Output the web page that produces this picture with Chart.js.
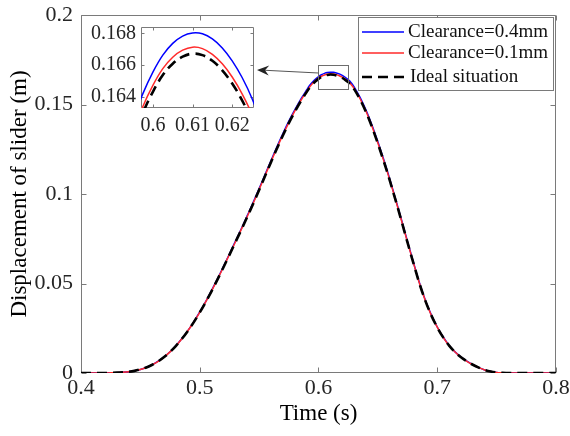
<!DOCTYPE html>
<html><head><meta charset="utf-8">
<script src="https://cdn.jsdelivr.net/npm/chart.js@4.4.0/dist/chart.umd.min.js"></script>
<style>
html,body{margin:0;padding:0;background:#fff;}
#wrap{position:relative;width:570px;height:436px;overflow:hidden;}
#main{position:absolute;left:0;top:0;}
#inset{position:absolute;left:80px;top:18px;}
</style></head><body>
<div id="wrap"><canvas id="main" width="570" height="436"></canvas><canvas id="inset" width="190" height="125"></canvas></div>
<script>
const time = [0.400,0.405,0.410,0.415,0.420,0.425,0.430,0.435,0.440,0.445,
0.450,0.455,0.460,0.465,0.470,0.475,0.480,0.485,0.490,0.495,
0.500,0.505,0.510,0.515,0.520,0.525,0.530,0.535,0.540,0.545,
0.550,0.555,0.560,0.565,0.570,0.575,0.580,0.585,0.590,
0.5925,0.595,0.5975,0.600,0.6025,0.605,0.6075,0.610,0.6125,0.615,0.6175,0.620,0.6225,0.625,0.6275,
0.630,0.635,0.640,0.645,0.650,0.655,0.660,0.665,0.670,0.675,
0.680,0.685,0.690,0.695,0.700,0.705,0.710,0.715,0.720,0.725,
0.730,0.735,0.740,0.745,0.750,0.755,0.760,0.765,0.770,0.775,
0.780,0.785,0.790,0.795,0.800];

const clearance04 = [0,0,0,0,0,0.0001,0.0002,0.0004,0.0007,0.0012,
0.0020,0.0031,0.0046,0.0066,0.0090,0.0119,0.0153,0.0193,0.0237,0.0286,
0.0341,0.0399,0.0462,0.0527,0.0596,0.0665,0.0736,0.0806,0.0879,0.0953,
0.1030,0.1109,0.1187,0.1264,0.1337,0.1407,0.1470,0.1529,0.1581,
0.1606,0.1626,0.16422,0.16556,0.16663,0.16737,0.16783,0.16802,0.16797,0.16765,0.16708,0.16627,0.16522,0.16390,0.16218,
0.15990,0.1540,0.1469,0.1386,0.1292,0.1191,0.1084,0.0970,0.0853,0.0734,
0.0617,0.0504,0.0406,0.0325,0.0257,0.0201,0.0154,0.0118,0.0089,0.0066,
0.0046,0.0030,0.0017,0.0008,0.0003,0.0001,0,0,0,0,
0,0,0,0,0];

const clearance01 = [0,0,0,0,0,0.0001,0.0002,0.0004,0.0007,0.0012,
0.0020,0.0031,0.0046,0.0065,0.0089,0.0118,0.0152,0.0191,0.0236,0.0285,
0.0339,0.0397,0.0459,0.0524,0.0592,0.0662,0.0732,0.0802,0.0874,0.0948,
0.1025,0.1103,0.1181,0.1257,0.1330,0.1399,0.1463,0.1521,0.1573,
0.1597,0.1617,0.16341,0.16473,0.16578,0.16650,0.16694,0.16713,0.16704,0.16668,0.16608,0.16525,0.16419,0.16289,0.16119,
0.15899,0.1532,0.1462,0.1378,0.1285,0.1185,0.1079,0.0965,0.0849,0.0730,
0.0614,0.0501,0.0404,0.0323,0.0256,0.0199,0.0153,0.0117,0.0088,0.0065,
0.0046,0.0030,0.0017,0.0008,0.0003,0.0001,0,0,0,0,
0,0,0,0,0];

const ideal = [0,0,0,0,0,0.0001,0.0002,0.0004,0.0007,0.0012,
0.0020,0.0031,0.0046,0.0065,0.0089,0.0118,0.0152,0.0191,0.0235,0.0284,
0.0338,0.0396,0.0458,0.0523,0.0591,0.0660,0.0730,0.0800,0.0872,0.0946,
0.1022,0.1100,0.1178,0.1254,0.1327,0.1396,0.1459,0.1517,0.1569,
0.1593,0.1613,0.16300,0.16432,0.16537,0.16609,0.16653,0.16672,0.16663,0.16627,0.16567,0.16484,0.16378,0.16248,0.16078,
0.15858,0.1528,0.1458,0.1375,0.1282,0.1182,0.1076,0.0963,0.0847,0.0728,
0.0612,0.0500,0.0403,0.0322,0.0255,0.0199,0.0153,0.0117,0.0088,0.0065,
0.0046,0.0030,0.0017,0.0008,0.0003,0.0001,0,0,0,0,
0,0,0,0,0];

const seriesLabels = ['Clearance=0.4mm','Clearance=0.1mm','Ideal situation'];
const xTitle = 'Time (s)';
const yTitle = 'Displacement of slider (m)';
const xTicks = [0.4,0.5,0.6,0.7,0.8];
const xTickLabels = ['0.4','0.5','0.6','0.7','0.8'];
const yTicks = [0,0.05,0.1,0.15,0.2];
const yTickLabels = ['0','0.05','0.1','0.15','0.2'];
const insetXTicks = [0.6,0.61,0.62];
const insetXTickLabels = ['0.6','0.61','0.62'];
const insetYTicks = [0.164,0.166,0.168];
const insetYTickLabels = ['0.164','0.166','0.168'];
const insetXRange = [0.597,0.6255];
const insetYRange = [0.1633,0.1684];
const zoomBox = {x0:0.5998, x1:0.6251, y0:0.1585, y1:0.172, arrowY:0.1676, arrowEndY:0.1657};

const FONT = "'Liberation Serif','Times New Roman',serif";
Chart.defaults.font.family = FONT;
const AXIS = '#7a7a7a';
const TXT = '#262626';
const colors = ['#0000ff','#ff2a2a','#000000'];
const widths = [1.5,1.5,2.6];
const dashes = [[],[],[10,6]];
const orders = [2,1,0];

function makeDatasets(smoothMode, tension){
  const arrs = [clearance04, clearance01, ideal];
  return arrs.map((arr,k)=>({
    label: seriesLabels[k],
    data: time.map((t,i)=>({x:t,y:arr[i]})),
    borderColor: colors[k], backgroundColor: colors[k],
    borderWidth: widths[k], borderDash: dashes[k],
    pointRadius: 0, fill: false, order: orders[k],
    cubicInterpolationMode: smoothMode, tension: tension
  }));
}

function setTicks(vals){ return function(s){ s.ticks = vals.map(v=>({value:v})); }; }
function fitY(w){ return function(s){ s.width = w; s.paddingTop = 0; s.paddingBottom = 0; }; }
function fitX(h){ return function(s){ s.height = h; s.paddingLeft = 0; s.paddingRight = 0; }; }

const boxPlugin = {
  id:'boxTicks',
  beforeDatasetsDraw(chart, args, opts){
    const {ctx, chartArea:a, scales:{x,y}} = chart;
    const L = opts.len;
    const l = Math.round(a.left)+0.5, r = Math.round(a.right)-0.5, t = Math.round(a.top)+0.5, b = Math.round(a.bottom)-0.5;
    ctx.save();
    ctx.strokeStyle = AXIS; ctx.lineWidth = 1;
    ctx.beginPath();
    ctx.rect(l, t, r-l, b-t);
    x.ticks.forEach(tk=>{
      const px = Math.round(x.getPixelForValue(tk.value))+0.5;
      ctx.moveTo(px,b); ctx.lineTo(px,b-L);
      ctx.moveTo(px,t); ctx.lineTo(px,t+L);
    });
    y.ticks.forEach(tk=>{
      const py = Math.round(y.getPixelForValue(tk.value))+0.5;
      ctx.moveTo(l,py); ctx.lineTo(l+L,py);
      ctx.moveTo(r,py); ctx.lineTo(r-L,py);
    });
    ctx.stroke();
    ctx.restore();
  }
};

// inset chart
const insetChart = new Chart(document.getElementById('inset'), {
  type:'line',
  data:{datasets: makeDatasets('default', 0.4)},
  options:{
    responsive:false, animation:false, events:[],
    layout:{padding:{left:0,top:9,right:16,bottom:0}},
    plugins:{legend:{display:false}, tooltip:{enabled:false}, boxTicks:{len:3}},
    scales:{
      x:{type:'linear', min:insetXRange[0], max:insetXRange[1],
        afterBuildTicks:setTicks(insetXTicks),
        afterFit:fitX(35),
        grid:{display:false, drawTicks:false}, border:{display:false},
        ticks:{autoSkip:false, maxRotation:0, padding:6, color:TXT, font:{size:20, family:FONT},
          callback:(v,i)=>insetXTickLabels[i]}},
      y:{type:'linear', min:insetYRange[0], max:insetYRange[1],
        afterBuildTicks:setTicks(insetYTicks),
        afterFit:fitY(61),
        grid:{display:false, drawTicks:false}, border:{display:false},
        ticks:{autoSkip:false, padding:5, color:TXT, font:{size:20, family:FONT},
          callback:(v,i)=>insetYTickLabels[i]}}
    }
  },
  plugins:[boxPlugin]
});

const insetCanvas = document.getElementById('inset');

const annotPlugin = {
  id:'annot',
  afterDraw(chart){
    const {ctx, chartArea:a, scales:{x,y}} = chart;
    ctx.save();
    // zoom box
    const bx0 = x.getPixelForValue(zoomBox.x0), bx1 = x.getPixelForValue(zoomBox.x1);
    const by0 = y.getPixelForValue(zoomBox.y1), by1 = y.getPixelForValue(zoomBox.y0);
    ctx.strokeStyle = '#6e6e6e'; ctx.lineWidth = 1;
    ctx.strokeRect(Math.round(bx0)+0.5, Math.round(by0)+0.5, Math.round(bx1-bx0), Math.round(by1-by0));
    // arrow
    const ox = insetCanvas.offsetLeft, oy = insetCanvas.offsetTop;
    const ex = ox + insetChart.chartArea.right + 3;
    const ey = oy + insetChart.scales.y.getPixelForValue(zoomBox.arrowEndY);
    const sx = bx0, sy = y.getPixelForValue(zoomBox.arrowY);
    ctx.strokeStyle = '#555'; ctx.lineWidth = 1;
    ctx.beginPath(); ctx.moveTo(sx,sy); ctx.lineTo(ex+6,ey+ (sy-ey)*6/(sx-ex)); ctx.stroke();
    const ang = Math.atan2(sy-ey, sx-ex);
    ctx.fillStyle = '#222';
    ctx.translate(ex,ey); ctx.rotate(ang);
    ctx.beginPath();
    ctx.moveTo(0,0); ctx.lineTo(12,-5); ctx.lineTo(8,0); ctx.lineTo(12,5); ctx.closePath();
    ctx.fill();
    ctx.setTransform(1,0,0,1,0,0);
    // legend
    const lx0 = a.right - 198, ly0 = a.top + 2, lw = 195, lh = 73;
    ctx.fillStyle = '#fff';
    ctx.fillRect(lx0, ly0, lw, lh);
    ctx.strokeStyle = AXIS; ctx.lineWidth = 1;
    ctx.strokeRect(Math.round(lx0)+0.5, Math.round(ly0)+0.5, lw, lh);
    const rows = [15, 36, 60];
    chart.data.datasets.forEach((ds,i)=>{
      const ry = ly0 + rows[i];
      ctx.strokeStyle = ds.borderColor; ctx.lineWidth = ds.borderWidth;
      ctx.setLineDash(ds.borderDash || []);
      ctx.beginPath(); ctx.moveTo(lx0+4, ry); ctx.lineTo(lx0+46, ry); ctx.stroke();
      ctx.setLineDash([]);
      ctx.fillStyle = '#111';
      ctx.font = "19px " + FONT;
      ctx.textBaseline = 'middle'; ctx.textAlign = 'left';
      ctx.fillText(ds.label, lx0 + (i===2 ? 52 : 50), ry);
    });
    ctx.restore();
  }
};

new Chart(document.getElementById('main'), {
  type:'line',
  data:{datasets: makeDatasets('monotone', 0)},
  options:{
    responsive:false, animation:false, events:[],
    layout:{padding:{left:0,top:15,right:14,bottom:0}},
    plugins:{legend:{display:false}, tooltip:{enabled:false}, boxTicks:{len:5}},
    scales:{
      x:{type:'linear', min:0.4, max:0.8,
        afterBuildTicks:setTicks(xTicks),
        afterFit:fitX(63),
        grid:{display:false, drawTicks:false}, border:{display:false},
        ticks:{autoSkip:false, maxRotation:0, padding:2, color:TXT, font:{size:22, family:FONT},
          callback:(v,i)=>xTickLabels[i]},
        title:{display:true, text:xTitle, color:'#000', font:{size:23, family:FONT}, padding:{top:0,bottom:8}}},
      y:{type:'linear', min:0, max:0.2,
        afterBuildTicks:setTicks(yTicks),
        afterFit:fitY(81),
        grid:{display:false, drawTicks:false}, border:{display:false},
        ticks:{autoSkip:false, padding:8, color:TXT, font:{size:22, family:FONT},
          callback:(v,i)=>yTickLabels[i]},
        title:{display:true, text:yTitle, color:'#000', font:{size:23, family:FONT}, padding:{top:6,bottom:0}}}
    }
  },
  plugins:[boxPlugin, annotPlugin]
});
</script>
</body></html>
